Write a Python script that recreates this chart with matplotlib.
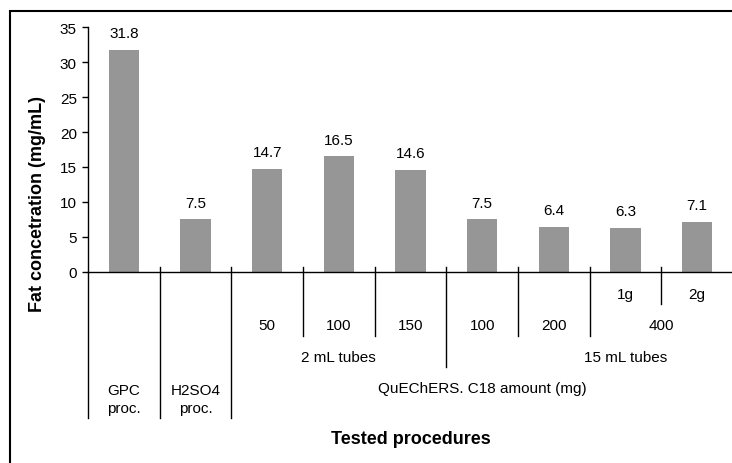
import matplotlib
matplotlib.use("Agg")
import matplotlib.pyplot as plt
from matplotlib.patches import Rectangle
from matplotlib.transforms import blended_transform_factory

plt.rcParams['font.family'] = ['Liberation Sans', 'DejaVu Sans']

# values
values = [31.8, 7.5, 14.7, 16.5, 14.6, 7.5, 6.4, 6.3, 7.1]
main_labels = ["GPC\nproc.", "H2SO4\nproc."]
amount_labels = ["50", "100", "150", "100", "200"]
mass_labels = ["1g", "2g"]
tube_labels = ["2 mL tubes", "15 mL tubes"]
group_label = "QuEChERS. C18 amount (mg)"
yticks = [0, 5, 10, 15, 20, 25, 30, 35]

W, H = 732, 464
fig = plt.figure(figsize=(W / 100, H / 100), dpi=100)
ax = fig.add_axes([88 / W, 1 - 272.7 / H, 645 / W, 244.4 / H])

x = list(range(len(values)))
ax.bar(x, values, width=0.42, color="#969696", zorder=2)
for xi, v in zip(x, values):
    ax.annotate(f"{v}", (xi, v), xytext=(0, 12), textcoords="offset points",
                ha="center", va="center", fontsize=11)

ax.set_xlim(-0.5, 8.5)
ax.set_ylim(0, 35)
ax.set_yticks(yticks)
ax.tick_params(axis="y", direction="out", length=4, width=1, labelsize=11, pad=4)
ax.set_xticks([])
for s in ["top", "right"]:
    ax.spines[s].set_visible(False)
ax.spines["left"].set_linewidth(1)
ax.spines["bottom"].set_linewidth(1)

# helper: y in pixels from top of figure
def fy(p):
    return 1 - p / H

tr = blended_transform_factory(ax.transData, fig.transFigure)

# separator lines of the multi-level category axis
seps = [(-0.5, 272.7, 419), (0.5, 268, 419), (1.5, 268, 419), (2.5, 268, 337),
        (3.5, 268, 337), (4.5, 268, 368), (5.5, 268, 337), (6.5, 268, 337),
        (7.5, 268, 305)]
for xs, y0, y1 in seps:
    ax.plot([xs, xs], [fy(y0), fy(y1)], color="black", lw=1, transform=tr,
            clip_on=False)

# level 1: bag mass
ax.text(7, fy(295), mass_labels[0], transform=tr, ha="center", va="center", fontsize=11)
ax.text(8, fy(295), mass_labels[1], transform=tr, ha="center", va="center", fontsize=11)
# level 2: C18 amount
for i, lab in enumerate(amount_labels):
    ax.text(2 + i, fy(326), lab, transform=tr, ha="center", va="center", fontsize=11)
ax.text(7.5, fy(326), "400", transform=tr, ha="center", va="center", fontsize=11)
# level 3: tubes
ax.text(3, fy(358), tube_labels[0], transform=tr, ha="center", va="center", fontsize=11)
ax.text(7, fy(358), tube_labels[1], transform=tr, ha="center", va="center", fontsize=11)
# level 4: QuEChERS
ax.text(5, fy(389), group_label, transform=tr, ha="center", va="center", fontsize=11)
# other procedures
for i, lab in enumerate(main_labels):
    ax.text(i, fy(400), lab, transform=tr, ha="center", va="center", fontsize=11,
            linespacing=1.3)

fig.text(411 / W, fy(440), "Tested procedures", ha="center", va="center",
         fontsize=13, fontweight="bold")
fig.text(38 / W, fy(204), "Fat concetration (mg/mL)", ha="center", va="center",
         fontsize=13, fontweight="bold", rotation=90)

# outer chart frame
fig.patches.append(Rectangle((10 / W, -0.1), 1.2, fy(12) + 0.1, transform=fig.transFigure,
                             fill=False, edgecolor="black", lw=1.5))

fig.savefig("out.png", dpi=100)
